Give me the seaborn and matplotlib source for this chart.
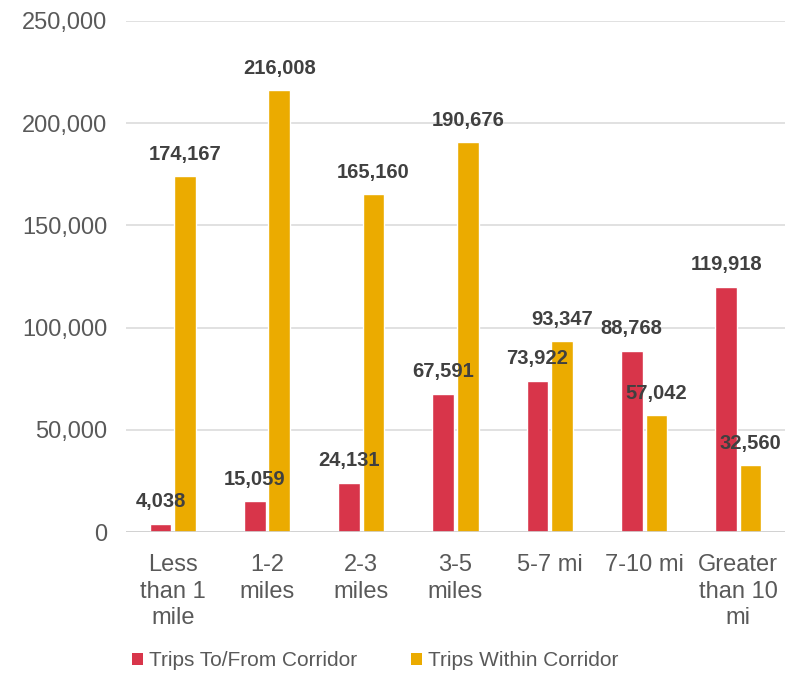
import matplotlib
matplotlib.use("Agg")
import matplotlib.pyplot as plt
import seaborn as sns
import pandas as pd
from matplotlib.ticker import FuncFormatter
from matplotlib.patches import Patch

categories = ["Less\nthan 1\nmile", "1-2\nmiles", "2-3\nmiles", "3-5\nmiles",
              "5-7 mi", "7-10 mi", "Greater\nthan 10\nmi"]
to_from = [4038, 15059, 24131, 67591, 73922, 88768, 119918]
within = [174167, 216008, 165160, 190676, 93347, 57042, 32560]
series_names = ["Trips To/From Corridor", "Trips Within Corridor"]
colors = ["#D8354A", "#EBAB00"]

df = pd.DataFrame({
    "category": categories * 2,
    "series": [series_names[0]] * len(categories) + [series_names[1]] * len(categories),
    "trips": to_from + within,
})

sns.set_theme(style="white")
plt.rcParams["font.family"] = ["Liberation Sans", "DejaVu Sans"]

fig = plt.figure(figsize=(7.95, 6.73), dpi=100)
ax = fig.add_axes([0.158, 0.2095, 0.83, 0.7593])

sns.barplot(data=df, x="category", y="trips", hue="series", order=categories,
            hue_order=series_names, palette=colors, width=0.52, gap=0.12,
            saturation=1, legend=False, ax=ax)

ax.set_ylim(0, 250000)
ax.set_yticks(range(0, 250001, 50000))
ax.yaxis.set_major_formatter(FuncFormatter(lambda v, p: f"{int(v):,}"))
ax.grid(axis="y", color="#d9d9d9", linewidth=1.1)
ax.set_axisbelow(True)
for s in ["top", "right", "left", "bottom"]:
    ax.spines[s].set_visible(False)
ax.axhline(0, color="#d0d0d0", linewidth=1.2, zorder=1)
ax.set_xlabel("")
ax.set_ylabel("")
ax.tick_params(axis="y", length=0, labelsize=17, labelcolor="#595959", pad=13)
ax.tick_params(axis="x", length=0, labelsize=17, labelcolor="#595959", pad=16)
for lbl in ax.get_xticklabels():
    lbl.set_linespacing(1.27)

for container in ax.containers:
    ax.bar_label(container, labels=[f"{int(v):,}" for v in container.datavalues],
                 padding=9, fontsize=14.5, fontweight="bold", color="#404040")

handles = [Patch(facecolor=c, edgecolor="none") for c in colors]
fig.legend(handles, series_names, loc="center", bbox_to_anchor=(0.472, 0.018),
           ncol=2, frameon=False, fontsize=15, labelcolor="#595959",
           handlelength=0.55, handleheight=0.55, handletextpad=0.3,
           columnspacing=2.55)

fig.savefig("out.png", dpi=100)
